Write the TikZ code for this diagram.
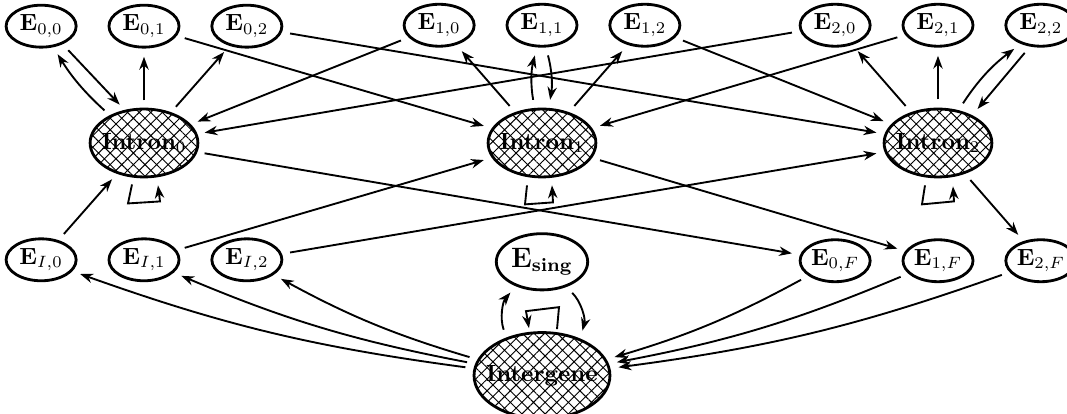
\documentclass[tikz,border=0pt]{standalone}
\usetikzlibrary{arrows.meta,positioning,shapes.geometric,patterns.meta}

\begin{document}
\begin{tikzpicture}[x=0.015cm, y=-0.015cm, node distance=25.6pt and 12.8pt, >={Stealth[length=5.5pt,width=4pt]},
    every node/.style={font=\bfseries},
    exon/.style={draw, ellipse, line width=1.2pt, inner sep=0pt, minimum width=29.9pt, minimum height=17.9pt},
    intron/.style={draw, ellipse, line width=1.2pt, inner xsep=-2pt, inner ysep=0pt, minimum width=46pt, minimum height=29pt,
        pattern={Hatch[angle=45,distance=3.5pt,line width=0.4pt]}},
    link/.style={draw, ->, line width=0.8pt, shorten <=3.5pt, shorten >=3.5pt},
    selfloop/.style={link, shorten <=0pt, shorten >=0pt}]
    \useasboundingbox (0,0) rectangle (1067,414);

    % Intron states
    \node [intron] (intron0) at (144,143) {Intron$_0$};
    \node [intron] (intron1) at (542,143) {Intron$_1$};
    \node [intron] (intron2) at (938,143) {Intron$_2$};

    % Exon states above the introns
    \node [exon, above=of intron0] (e01) {$\mathbf{E}_{0,1}$};
    \node [exon, left=of e01] (e00) {$\mathbf{E}_{0,0}$};
    \node [exon, right=of e01] (e02) {$\mathbf{E}_{0,2}$};
    \node [exon, above=of intron1] (e11) {$\mathbf{E}_{1,1}$};
    \node [exon, left=of e11] (e10) {$\mathbf{E}_{1,0}$};
    \node [exon, right=of e11] (e12) {$\mathbf{E}_{1,2}$};
    \node [exon, above=of intron2] (e21) {$\mathbf{E}_{2,1}$};
    \node [exon, left=of e21] (e20) {$\mathbf{E}_{2,0}$};
    \node [exon, right=of e21] (e22) {$\mathbf{E}_{2,2}$};

    % Initial and final exons
    \node [exon, below=of intron0] (eI1) {$\mathbf{E}_{I,1}$};
    \node [exon, left=of eI1] (eI0) {$\mathbf{E}_{I,0}$};
    \node [exon, right=of eI1] (eI2) {$\mathbf{E}_{I,2}$};
    \node [exon, below=of intron2] (e1F) {$\mathbf{E}_{1,F}$};
    \node [exon, left=of e1F] (e0F) {$\mathbf{E}_{0,F}$};
    \node [exon, right=of e1F] (e2F) {$\mathbf{E}_{2,F}$};

    % Single exon and intergenic region
    \node [exon, font=\large\bfseries, minimum width=39pt, minimum height=24pt, below=23pt of intron1] (esing) {$\mathbf{E}_{\mathbf{sing}}$};
    \node [intron, inner xsep=-3.5pt, minimum width=58pt, minimum height=36.7pt, below=17pt of esing] (intergene) {Intergene};

    % Paths around Intron 0
    \path [link] (intron0.141) to[bend left=8] (e00.300);
    \path [link] (e00.320) -- (intron0.120);
    \path [link] (intron0) -- (e01);
    \path [link] (intron0) -- (e02);
    \path [link] (intron0) -- (e0F);
    \path [link] (e10) -- (intron0);
    \path [link] (e20) -- (intron0);
    \path [link] (eI0) -- (intron0);
    \path [selfloop] ([shift={(-12,7)}]intron0.south) -- ++(-4,19) -- ++(32,-2) -- ++(-2,-16);

    % Paths around Intron 1
    \path [link] (intron1) -- (e10);
    \path [link] (intron1.102) to[bend left=12] (e11.257);
    \path [link] (e11.280) to[bend left=12] (intron1.79);
    \path [link] (intron1) -- (e12);
    \path [link] (intron1) -- (e1F);
    \path [link] (e01) -- (intron1);
    \path [link] (e21) -- (intron1);
    \path [link] (eI1) -- (intron1);
    \path [selfloop] ([shift={(-15,7)}]intron1.south) -- ++(-2,19) -- ++(28,-2) -- ++(-1,-17);

    % Paths around Intron 2
    \path [link] (intron2) -- (e20);
    \path [link] (intron2) -- (e21);
    \path [link] (intron2.58) to[bend left=10] (e22.223);
    \path [link] (e22.243) -- (intron2.39);
    \path [link] (intron2) -- (e2F);
    \path [link] (e02) -- (intron2);
    \path [link] (e12) -- (intron2);
    \path [link] (eI2) -- (intron2);
    \path [selfloop] ([shift={(-13,7)}]intron2.south) -- ++(-3,19) -- ++(32,-3) -- ++(-1,-15);

    % Paths around Intergene
    \path [link] (intergene.174) to[bend left=6] (eI0);
    \path [link] (intergene.170) to[bend left=6] (eI1);
    \path [link] (intergene.166) to[bend left=6] (eI2);
    \path [link] (e0F) to[bend left=6] (intergene.14);
    \path [link] (e1F) to[bend left=6] (intergene.10);
    \path [link] (e2F) to[bend left=6] (intergene.6);
    \path [link] (intergene.133) to[bend left=30] (esing.223);
    \path [link] (esing.314) to[bend left=30] (intergene.44);
    \path [selfloop] ([shift={(15,-2)}]intergene.north) -- ++(2,-22) -- ++(-33,4) -- ++(3,17);
\end{tikzpicture}
\end{document}
